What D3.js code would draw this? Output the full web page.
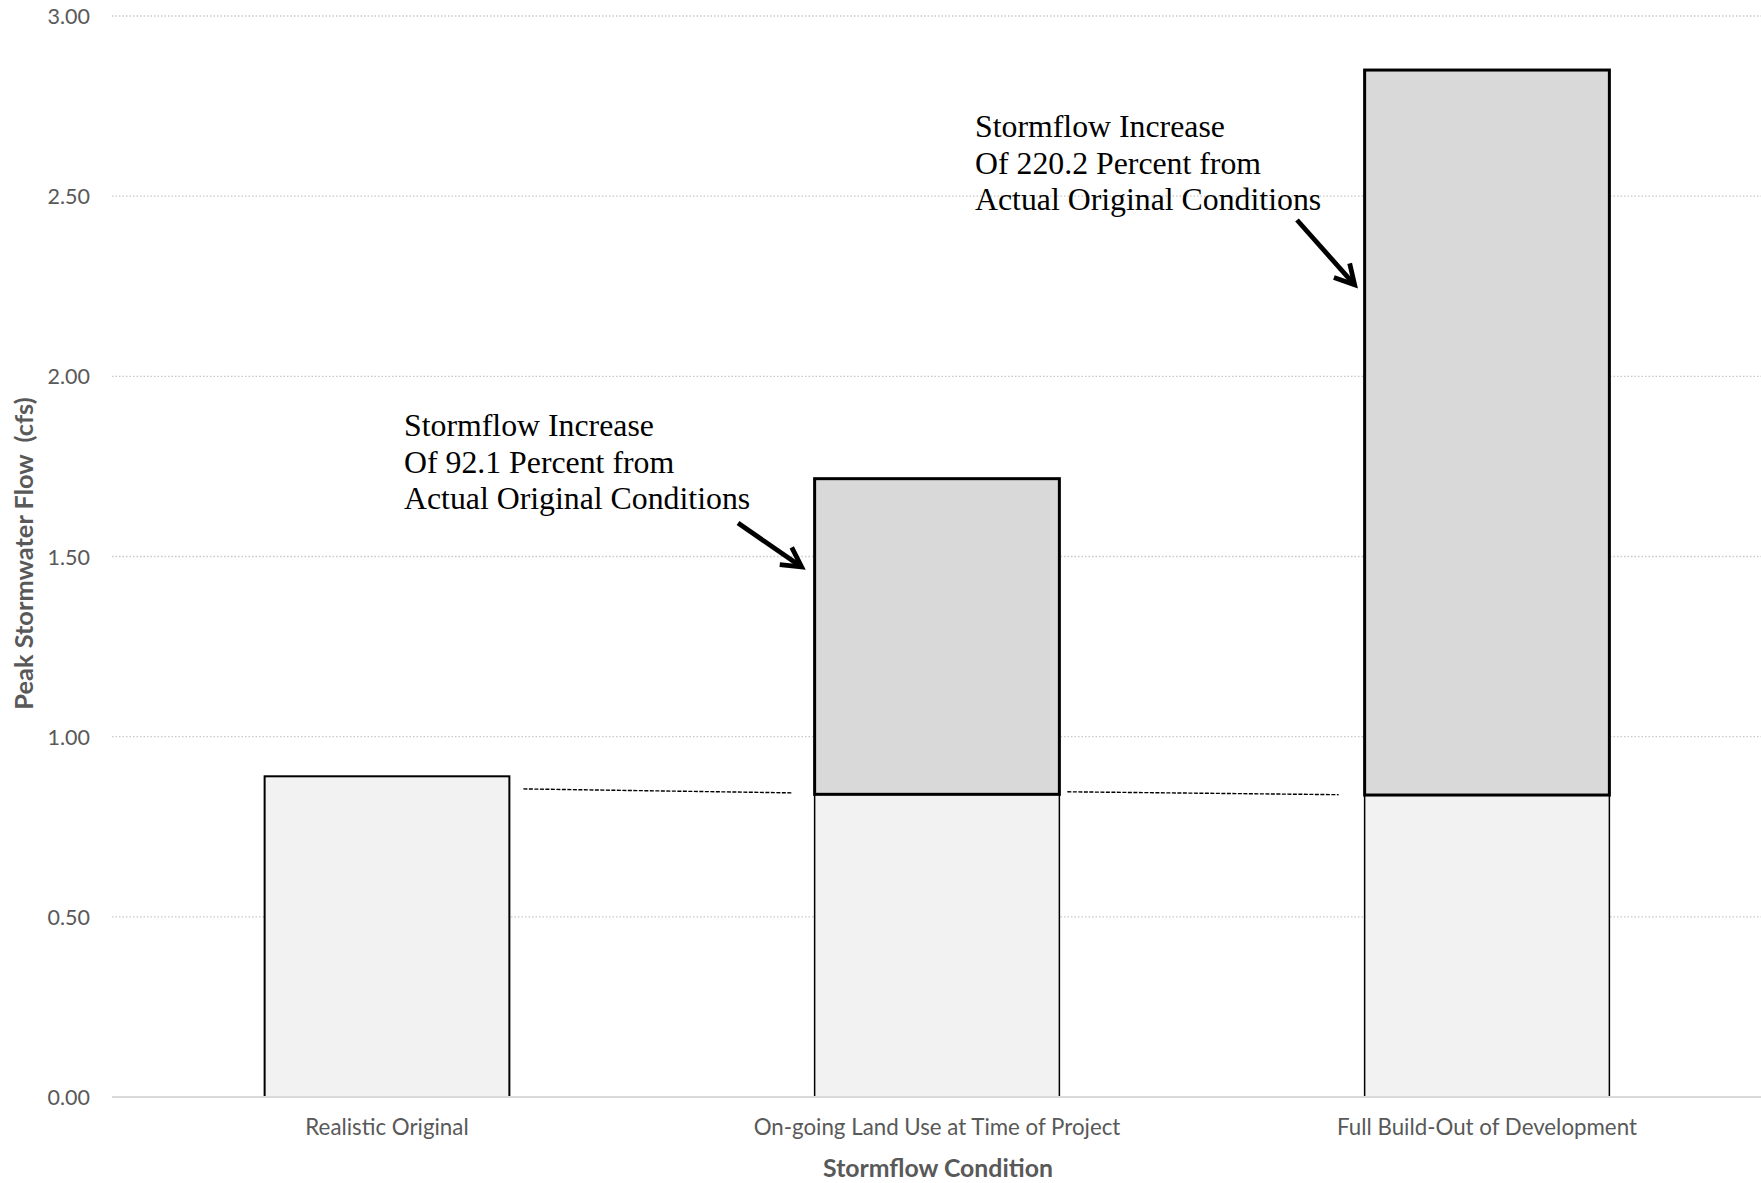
<!DOCTYPE html>
<html>
<head>
<meta charset="utf-8">
<script src="https://cdn.jsdelivr.net/npm/d3@7"></script>
<style>
  html, body { margin: 0; padding: 0; background: #fff; }
  svg { display: block; }
</style>
</head>
<body>
<svg id="chart" width="1761" height="1183"></svg>
<script>
// ---------------- data ----------------
const categories = ["Realistic Original", "On-going Land Use at Time of Project", "Full Build-Out of Development"];
const baseFlow = [0.89, 0.84, 0.838];        // lower (light) segment, cfs
const increaseFlow = [0, 0.876, 2.012];      // upper (grey) segment, cfs
const yTicks = [0, 0.5, 1.0, 1.5, 2.0, 2.5, 3.0];
const yTitle = "Peak Stormwater Flow  (cfs)";
const xTitle = "Stormflow Condition";
const note1 = ["Stormflow Increase", "Of 92.1 Percent from", "Actual Original Conditions"];
const note2 = ["Stormflow Increase", "Of 220.2 Percent from", "Actual Original Conditions"];
// reference (dashed) levels between bars: [start value, end value]
const refLevel1 = [0.855, 0.844];
const refLevel2 = [0.847, 0.839];

// ---------------- layout ----------------
const W = 1761, H = 1183;
const plot = { left: 112, right: 1762, top: 16, bottom: 1097 };
const svg = d3.select("#chart");

const x = d3.scaleBand().domain(categories).range([plot.left, plot.right])
  .paddingInner(0.555).paddingOuter(0.2775);
const y = d3.scaleLinear().domain([0, 3]).range([plot.bottom, plot.top]);

const sansFont = "Lato, 'Open Sans', sans-serif";
const serifFont = "'Liberation Serif', 'Times New Roman', serif";
const textGrey = "#595959";

// grid lines
svg.append("g").selectAll("line").data(yTicks.filter(d => d > 0)).join("line")
  .attr("x1", plot.left).attr("x2", W)
  .attr("y1", d => y(d)).attr("y2", d => y(d))
  .attr("stroke", "#c8c8c8").attr("stroke-width", 1.3)
  .attr("stroke-dasharray", "1.5,2");

// y axis labels via d3 axis
const yAxis = svg.append("g").attr("transform", `translate(${plot.left - 22},0)`)
  .call(d3.axisLeft(y).tickValues(yTicks).tickFormat(d3.format(".2f")).tickSize(0));
yAxis.select(".domain").remove();
yAxis.selectAll("text").attr("font-family", sansFont).attr("font-size", 21.5)
  .attr("fill", textGrey).attr("dx", 0).attr("x", 0).attr("dy", "0.35em");

// bars
const rows = categories.map((c, i) => ({ c, base: baseFlow[i], inc: increaseFlow[i] }));
const bars = svg.append("g");
bars.selectAll("rect.base").data(rows).join("rect").attr("class", "base")
  .attr("x", d => x(d.c)).attr("width", x.bandwidth())
  .attr("y", d => y(d.base)).attr("height", d => y(0) - y(d.base))
  .attr("fill", "#f2f2f2").attr("stroke", "#000")
  .attr("stroke-width", (d, i) => i === 0 ? 2 : 1.5);
bars.selectAll("rect.inc").data(rows.filter(d => d.inc > 0)).join("rect").attr("class", "inc")
  .attr("x", d => x(d.c)).attr("width", x.bandwidth())
  .attr("y", d => y(d.base + d.inc)).attr("height", d => y(d.base) - y(d.base + d.inc))
  .attr("fill", "#d9d9d9").attr("stroke", "#000").attr("stroke-width", 3);

// baseline axis
svg.append("line").attr("x1", plot.left).attr("x2", W)
  .attr("y1", y(0)).attr("y2", y(0)).attr("stroke", "#d9d9d9").attr("stroke-width", 2);

// x axis labels
const xAxis = svg.append("g").attr("transform", `translate(0,${plot.bottom})`)
  .call(d3.axisBottom(x).tickSize(0));
xAxis.select(".domain").remove();
xAxis.selectAll("text").attr("font-family", sansFont).attr("font-size", 22.3)
  .attr("fill", textGrey).attr("y", 38).attr("dy", 0);

// axis titles
svg.append("text").attr("x", (plot.left + plot.right) / 2 + 1).attr("y", 1177)
  .attr("text-anchor", "middle").attr("font-family", sansFont).attr("font-weight", 700)
  .attr("font-size", 24.8).attr("fill", textGrey).text(xTitle);
svg.append("text").attr("transform", `translate(33,${(plot.top + plot.bottom) / 2 - 3}) rotate(-90)`)
  .attr("text-anchor", "middle").attr("font-family", sansFont).attr("font-weight", 700)
  .attr("font-size", 25.4).attr("fill", textGrey).attr("xml:space", "preserve").text(yTitle);

// dashed reference lines
const dashG = svg.append("g");
const dashSegs = [
  { x1: x(categories[0]) + x.bandwidth() + 14, x2: x(categories[1]) - 22, v: refLevel1 },
  { x1: x(categories[1]) + x.bandwidth() + 8, x2: x(categories[2]) - 26, v: refLevel2 }
];
dashG.selectAll("line").data(dashSegs).join("line")
  .attr("x1", d => d.x1).attr("x2", d => d.x2)
  .attr("y1", d => y(d.v[0])).attr("y2", d => y(d.v[1]))
  .attr("stroke", "#000").attr("stroke-width", 1.4).attr("stroke-dasharray", "4,1.5");

// annotations
function note(lines, left, firstBaseline) {
  const t = svg.append("text").attr("font-family", serifFont).attr("font-size", 31.8).attr("fill", "#000");
  lines.forEach((s, i) => t.append("tspan").attr("x", left).attr("y", firstBaseline + i * 36.5).text(s));
}
note(note1, 404, 436);
note(note2, 975, 137);

function arrow(x1, y1, x2, y2) {
  const ang = Math.atan2(y2 - y1, x2 - x1);
  const len = 22, spread = 0.5;
  const g = svg.append("g").attr("stroke", "#000").attr("stroke-width", 4.8)
    .attr("fill", "none").attr("stroke-linecap", "butt");
  g.append("line").attr("x1", x1).attr("y1", y1).attr("x2", x2 - 3 * Math.cos(ang)).attr("y2", y2 - 3 * Math.sin(ang));
  const p = [
    [x2 - len * Math.cos(ang - spread), y2 - len * Math.sin(ang - spread)],
    [x2, y2],
    [x2 - len * Math.cos(ang + spread), y2 - len * Math.sin(ang + spread)]
  ];
  g.append("path").attr("d", d3.line()(p)).attr("stroke-linejoin", "miter");
}
// arrow tips anchored to the bars they point at
arrow(738, 523, x(categories[1]) - 13, y(1.471));
arrow(1297, 220, x(categories[2]) - 10, y(2.254));
</script>
</body>
</html>
